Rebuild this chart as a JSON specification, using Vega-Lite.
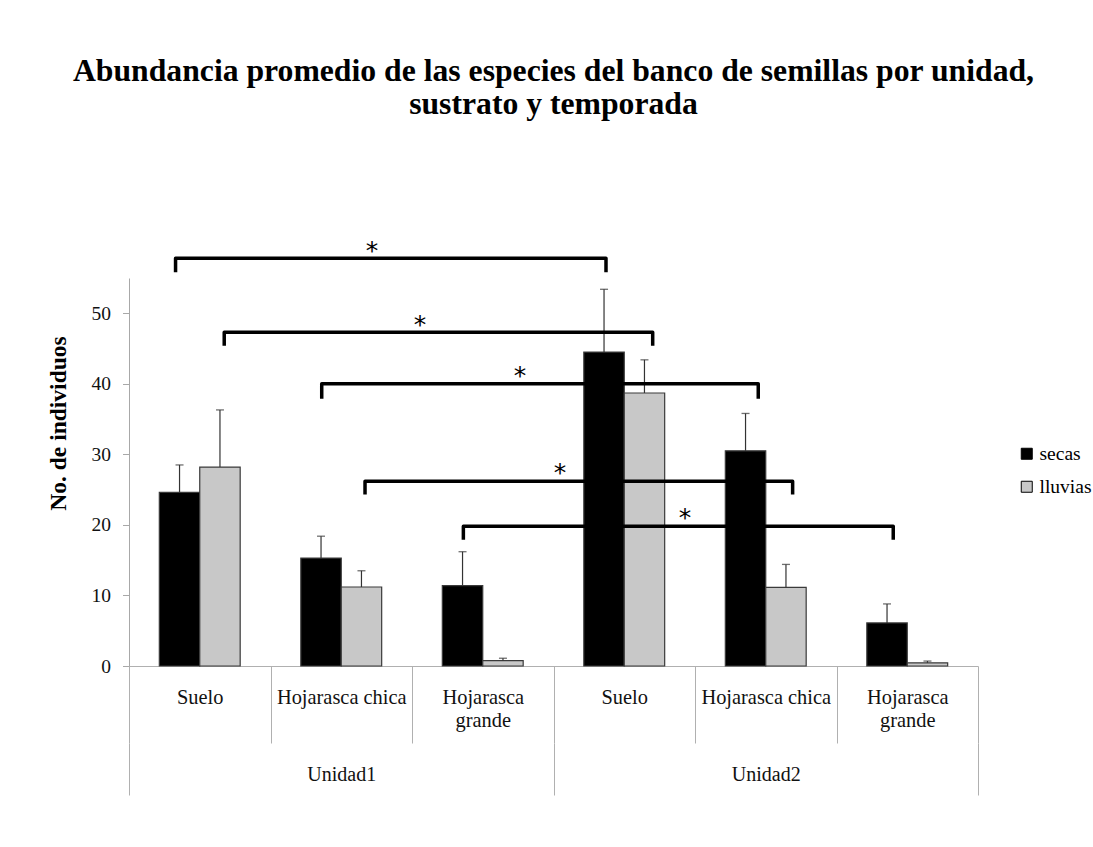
{
  "$schema": "https://vega.github.io/schema/vega-lite/v6.json",
  "width": 849,
  "height": 388,
  "autosize": {"type": "none"},
  "padding": {"left": 129, "top": 278, "right": 115, "bottom": 181},
  "background": "white",
  "config": {
    "view": {"stroke": null},
    "font": "Liberation Serif",
    "axisY": {
      "titleFont": "Liberation Serif",
      "titleFontSize": 23.5,
      "titleFontWeight": "bold",
      "titleColor": "#000000",
      "titleAngle": 270,
      "titleX": -71,
      "titleY": 145,
      "titleBaseline": "middle",
      "titleAlign": "center",
      "grid": false,
      "domainColor": "#a8a8a8",
      "tickColor": "#a8a8a8",
      "tickSize": 6.5,
      "labelPadding": 12,
      "labelFont": "Liberation Serif",
      "labelFontSize": 19.5,
      "labelColor": "#111111"
    }
  },
  "title": {
    "text": ["Abundancia promedio de las especies del banco de semillas por unidad,", "sustrato y temporada"],
    "font": "Liberation Serif",
    "fontSize": 31.7,
    "fontWeight": "bold",
    "color": "#000000",
    "lineHeight": 33,
    "anchor": "middle",
    "frame": "group",
    "offset": 118
  },
  "datasets": {
    "barras": [
      {"grupo": "Unidad1|Suelo", "unidad": "Unidad1", "sustrato": "Suelo", "temporada": "secas", "valor": 24.6, "lim_sup": 28.5},
      {"grupo": "Unidad1|Suelo", "unidad": "Unidad1", "sustrato": "Suelo", "temporada": "lluvias", "valor": 28.2, "lim_sup": 36.3},
      {"grupo": "Unidad1|Hojarasca chica", "unidad": "Unidad1", "sustrato": "Hojarasca chica", "temporada": "secas", "valor": 15.3, "lim_sup": 18.4},
      {"grupo": "Unidad1|Hojarasca chica", "unidad": "Unidad1", "sustrato": "Hojarasca chica", "temporada": "lluvias", "valor": 11.2, "lim_sup": 13.5},
      {"grupo": "Unidad1|Hojarasca grande", "unidad": "Unidad1", "sustrato": "Hojarasca grande", "temporada": "secas", "valor": 11.4, "lim_sup": 16.2},
      {"grupo": "Unidad1|Hojarasca grande", "unidad": "Unidad1", "sustrato": "Hojarasca grande", "temporada": "lluvias", "valor": 0.75, "lim_sup": 1.1},
      {"grupo": "Unidad2|Suelo", "unidad": "Unidad2", "sustrato": "Suelo", "temporada": "secas", "valor": 44.5, "lim_sup": 53.4},
      {"grupo": "Unidad2|Suelo", "unidad": "Unidad2", "sustrato": "Suelo", "temporada": "lluvias", "valor": 38.7, "lim_sup": 43.4},
      {"grupo": "Unidad2|Hojarasca chica", "unidad": "Unidad2", "sustrato": "Hojarasca chica", "temporada": "secas", "valor": 30.5, "lim_sup": 35.8},
      {"grupo": "Unidad2|Hojarasca chica", "unidad": "Unidad2", "sustrato": "Hojarasca chica", "temporada": "lluvias", "valor": 11.15, "lim_sup": 14.4},
      {"grupo": "Unidad2|Hojarasca grande", "unidad": "Unidad2", "sustrato": "Hojarasca grande", "temporada": "secas", "valor": 6.1, "lim_sup": 8.8},
      {"grupo": "Unidad2|Hojarasca grande", "unidad": "Unidad2", "sustrato": "Hojarasca grande", "temporada": "lluvias", "valor": 0.45, "lim_sup": 0.7}
    ],
    "llaves": [
      {"comparacion": 1, "k": 1, "xq": 0.329, "yv": 55.8},
      {"comparacion": 1, "k": 2, "xq": 0.329, "yv": 57.8},
      {"comparacion": 1, "k": 3, "xq": 3.371, "yv": 57.8},
      {"comparacion": 1, "k": 4, "xq": 3.371, "yv": 55.8},
      {"comparacion": 2, "k": 1, "xq": 0.673, "yv": 45.4},
      {"comparacion": 2, "k": 2, "xq": 0.673, "yv": 47.3},
      {"comparacion": 2, "k": 3, "xq": 3.701, "yv": 47.3},
      {"comparacion": 2, "k": 4, "xq": 3.701, "yv": 45.4},
      {"comparacion": 3, "k": 1, "xq": 1.362, "yv": 37.9},
      {"comparacion": 3, "k": 2, "xq": 1.362, "yv": 40.0},
      {"comparacion": 3, "k": 3, "xq": 4.447, "yv": 40.0},
      {"comparacion": 3, "k": 4, "xq": 4.447, "yv": 37.9},
      {"comparacion": 4, "k": 1, "xq": 1.668, "yv": 24.3},
      {"comparacion": 4, "k": 2, "xq": 1.668, "yv": 26.2},
      {"comparacion": 4, "k": 3, "xq": 4.690, "yv": 26.2},
      {"comparacion": 4, "k": 4, "xq": 4.690, "yv": 24.3},
      {"comparacion": 5, "k": 1, "xq": 2.363, "yv": 17.9},
      {"comparacion": 5, "k": 2, "xq": 2.363, "yv": 19.8},
      {"comparacion": 5, "k": 3, "xq": 5.401, "yv": 19.8},
      {"comparacion": 5, "k": 4, "xq": 5.401, "yv": 17.9}
    ],
    "asteriscos": [
      {"comparacion": 1, "xq": 1.717, "yv": 59.8, "etiqueta": "*"},
      {"comparacion": 2, "xq": 2.057, "yv": 49.3, "etiqueta": "*"},
      {"comparacion": 3, "xq": 2.763, "yv": 42.0, "etiqueta": "*"},
      {"comparacion": 4, "xq": 3.046, "yv": 28.3, "etiqueta": "*"},
      {"comparacion": 5, "xq": 3.929, "yv": 21.9, "etiqueta": "*"}
    ]
  },
  "layer": [
    {
      "data": {"name": "barras"},
      "mark": {"type": "bar", "stroke": "#3a3a3a", "strokeWidth": 1.2},
      "encoding": {
        "x": {
          "field": "grupo", "type": "nominal",
          "sort": ["Unidad1|Suelo", "Unidad1|Hojarasca chica", "Unidad1|Hojarasca grande", "Unidad2|Suelo", "Unidad2|Hojarasca chica", "Unidad2|Hojarasca grande"],
          "scale": {"paddingInner": 0, "paddingOuter": 0},
          "axis": {
            "title": null,
            "tickBand": "extent",
            "tickSize": 77,
            "tickColor": "#b0b0b0",
            "domainColor": "#b0b0b0",
            "labelAngle": 0,
            "labelPadding": -56,
            "labelFont": "Liberation Serif",
            "labelFontSize": 20.4,
            "labelColor": "#111111",
            "labelLineHeight": 23.5,
            "labelBaseline": "top",
            "labelExpr": "split(datum.value,'|')[1] == 'Hojarasca grande' ? ['Hojarasca','grande'] : split(datum.value,'|')[1]"
          }
        },
        "xOffset": {"field": "temporada", "type": "nominal", "sort": ["secas", "lluvias"], "scale": {"paddingInner": 0, "paddingOuter": 0.75}},
        "y": {
          "field": "valor", "type": "quantitative",
          "title": "No. de individuos",
          "scale": {"domain": [0, 55], "nice": false},
          "axis": {"values": [0, 10, 20, 30, 40, 50]}
        },
        "color": {
          "field": "temporada", "type": "nominal",
          "scale": {"domain": ["secas", "lluvias"], "range": ["#000000", "#c8c8c8"]},
          "legend": {
            "orient": "none",
            "legendX": 888,
            "legendY": 166,
            "title": null,
            "padding": 0,
            "symbolType": "square",
            "symbolSize": 121,
            "symbolStrokeColor": "#000000",
            "symbolStrokeWidth": 1,
            "labelFont": "Liberation Serif",
            "labelFontSize": 19.5,
            "labelColor": "#000000",
            "labelOffset": 3,
            "labelLimit": 200,
            "rowPadding": 12
          }
        }
      }
    },
    {
      "data": {"name": "barras"},
      "mark": {"type": "rule", "color": "#333333", "strokeWidth": 1.2},
      "encoding": {
        "x": {"field": "grupo", "type": "nominal", "sort": ["Unidad1|Suelo", "Unidad1|Hojarasca chica", "Unidad1|Hojarasca grande", "Unidad2|Suelo", "Unidad2|Hojarasca chica", "Unidad2|Hojarasca grande"], "scale": {"paddingInner": 0, "paddingOuter": 0}, "axis": null},
        "xOffset": {"field": "temporada", "type": "nominal", "sort": ["secas", "lluvias"], "scale": {"paddingInner": 0, "paddingOuter": 0.75}},
        "y": {"field": "valor", "type": "quantitative", "title": "No. de individuos", "scale": {"domain": [0, 55], "nice": false}, "axis": {"values": [0, 10, 20, 30, 40, 50]}},
        "y2": {"field": "lim_sup"}
      }
    },
    {
      "data": {"name": "barras"},
      "mark": {"type": "tick", "orient": "horizontal", "color": "#333333", "thickness": 1.3, "size": 8},
      "encoding": {
        "x": {"field": "grupo", "type": "nominal", "sort": ["Unidad1|Suelo", "Unidad1|Hojarasca chica", "Unidad1|Hojarasca grande", "Unidad2|Suelo", "Unidad2|Hojarasca chica", "Unidad2|Hojarasca grande"], "scale": {"paddingInner": 0, "paddingOuter": 0}, "axis": null},
        "xOffset": {"field": "temporada", "type": "nominal", "sort": ["secas", "lluvias"], "scale": {"paddingInner": 0, "paddingOuter": 0.75}},
        "y": {"field": "lim_sup", "type": "quantitative", "title": "No. de individuos", "scale": {"domain": [0, 55], "nice": false}, "axis": {"values": [0, 10, 20, 30, 40, 50]}}
      }
    },
    {
      "data": {"name": "llaves"},
      "mark": {"type": "line", "color": "#000000", "strokeWidth": 3.5, "strokeJoin": "round", "strokeCap": "butt"},
      "encoding": {
        "x": {"field": "xq", "type": "quantitative", "scale": {"domain": [0, 6], "nice": false, "zero": false}, "axis": null},
        "y": {"field": "yv", "type": "quantitative", "title": "No. de individuos", "scale": {"domain": [0, 55], "nice": false}, "axis": {"values": [0, 10, 20, 30, 40, 50]}},
        "detail": {"field": "comparacion", "type": "nominal"},
        "order": {"field": "k", "type": "quantitative"}
      }
    },
    {
      "data": {"name": "asteriscos"},
      "mark": {"type": "text", "font": "DejaVu Sans", "fontSize": 25, "color": "#000000", "baseline": "alphabetic", "align": "center", "dy": 14.6},
      "encoding": {
        "x": {"field": "xq", "type": "quantitative", "scale": {"domain": [0, 6], "nice": false, "zero": false}, "axis": null},
        "y": {"field": "yv", "type": "quantitative", "title": "No. de individuos", "scale": {"domain": [0, 55], "nice": false}, "axis": {"values": [0, 10, 20, 30, 40, 50]}},
        "text": {"field": "etiqueta"}
      }
    },
    {
      "data": {"name": "barras"},
      "mark": {"type": "rule", "opacity": 0},
      "encoding": {
        "x": {
          "field": "unidad", "type": "nominal",
          "scale": {"paddingInner": 0, "paddingOuter": 0},
          "axis": {
            "orient": "bottom",
            "offset": 77,
            "title": null,
            "tickBand": "extent",
            "tickSize": 52,
            "tickColor": "#b0b0b0",
            "domain": false,
            "labelAngle": 0,
            "labelPadding": -30.5,
            "labelBaseline": "top",
            "labelFont": "Liberation Serif",
            "labelFontSize": 20,
            "labelColor": "#111111"
          }
        }
      }
    }
  ],
  "resolve": {"scale": {"x": "independent", "xOffset": "independent"}}
}
